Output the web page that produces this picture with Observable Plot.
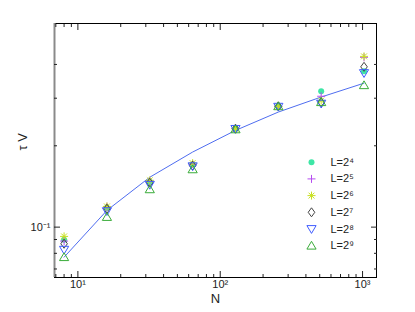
<!DOCTYPE html>
<html>
<head>
<meta charset="utf-8">
<script src="https://cdn.jsdelivr.net/npm/d3@7"></script>
<script src="https://cdn.jsdelivr.net/npm/@observablehq/plot@0.6"></script>
<style>
  html, body { margin: 0; padding: 0; background: #fff; }
  #chart svg { display: block; }
</style>
</head>
<body>
<div id="chart"></div>
<script>
// ---- data ----
const N = [8, 16, 32, 64, 128, 256, 512, 1024];
const L4 = [0.0898, 0.1180, 0.1470, 0.1700, 0.2314, 0.2800, 0.3180, 0.3775];
const L5 = [0.0888, 0.1190, 0.1480, 0.1710, 0.2314, 0.2800, 0.3050, 0.4250];
const L6 = [0.0924, 0.1193, 0.1490, 0.1725, 0.2314, 0.2800, 0.2940, 0.4285];
const L7 = [0.0868, 0.1170, 0.1460, 0.1690, 0.2314, 0.2800, 0.2900, 0.3920];
const L8 = [0.0825, 0.1146, 0.1435, 0.1680, 0.2310, 0.2790, 0.2865, 0.3717];
const L9 = [0.0774, 0.1090, 0.1380, 0.1636, 0.2300, 0.2800, 0.2900, 0.3350];
const fitLine = [0.0774, 0.1153, 0.1530, 0.1896, 0.2280, 0.2666, 0.3030, 0.3410];

const seriesNames = ["L=2⁴", "L=2⁵", "L=2⁶", "L=2⁷", "L=2⁸", "L=2⁹"];
const xMajor = [10, 100, 1000];
const xMajorLabels = ["10¹", "10²", "10³"];
const xMinor = [7, 8, 9, 20, 30, 40, 50, 60, 70, 80, 90, 200, 300, 400, 500, 600, 700, 800, 900];
const yMajor = [0.1];
const yMajorLabels = ["10⁻¹"];
const yMinor = [0.07, 0.08, 0.09, 0.2, 0.3, 0.4];
const xDomain = [6.85, 1253];
const yDomain = [0.0651, 0.567];

const xLabelOf = new Map(xMajor.map((v, i) => [v, xMajorLabels[i]]));
const yLabelOf = new Map(yMajor.map((v, i) => [v, yMajorLabels[i]]));

// ---- symbols ----
const symCircle = {draw(c) { c.moveTo(3, 0); c.arc(0, 0, 3, 0, 2 * Math.PI); c.closePath(); }};
const symPlus = {draw(c) { c.moveTo(-4, 0); c.lineTo(4, 0); c.moveTo(0, -4); c.lineTo(0, 4); }};
const symAst = {draw(c) {
  c.moveTo(-4, 0); c.lineTo(4, 0); c.moveTo(0, -4); c.lineTo(0, 4);
  c.moveTo(-2.9, -2.9); c.lineTo(2.9, 2.9); c.moveTo(-2.9, 2.9); c.lineTo(2.9, -2.9);
}};
const symDiamond = {draw(c) { c.moveTo(0, -4.5); c.lineTo(3.3, 0); c.lineTo(0, 4.5); c.lineTo(-3.3, 0); c.closePath(); }};
const symTriDown = {draw(c) { c.moveTo(-4.6, -3.4); c.lineTo(4.6, -3.4); c.lineTo(0, 4.4); c.closePath(); }};
const symTriUp = {draw(c) { c.moveTo(-4.6, 3.4); c.lineTo(4.6, 3.4); c.lineTo(0, -4.4); c.closePath(); }};

const series = [
  {vals: L4, sym: symCircle, color: "#3ee6a6", filled: true},
  {vals: L5, sym: symPlus, color: "#b64cf0", filled: false},
  {vals: L6, sym: symAst, color: "#c8e020", filled: false},
  {vals: L7, sym: symDiamond, color: "#444444", filled: false},
  {vals: L8, sym: symTriDown, color: "#3f5cff", filled: false},
  {vals: L9, sym: symTriUp, color: "#3aac3a", filled: false}
];

const font = "Liberation Sans, Arial, Helvetica, sans-serif";

const marks = [];

// frame: black box, gray left edge
marks.push(Plot.frame({stroke: "black", strokeWidth: 1}));
marks.push(Plot.ruleX([xDomain[0]], {stroke: "#8a8a8a", strokeWidth: 2}));

// ticks (inward) on all sides
for (const anchor of ["bottom", "top"]) {
  marks.push(Plot.axisX(xMajor, {anchor, tickSize: -6, text: null, label: null}));
  marks.push(Plot.axisX(xMinor, {anchor, tickSize: -3, text: null, label: null}));
}
for (const anchor of ["left", "right"]) {
  marks.push(Plot.axisY(yMajor, {anchor, tickSize: -6, text: null, label: null}));
  marks.push(Plot.axisY(yMinor, {anchor, tickSize: -3, text: null, label: null}));
}
// tick labels
marks.push(Plot.axisX(xMajor, {anchor: "bottom", tickSize: 0, tickPadding: 3, tickFormat: d => xLabelOf.get(d), label: null, fontSize: 11}));
marks.push(Plot.axisY(yMajor, {anchor: "left", tickSize: 0, tickPadding: 4, tickFormat: d => yLabelOf.get(d), label: null, fontSize: 11}));

// fitted line
marks.push(Plot.line(N.map((n, i) => ({N: n, v: fitLine[i]})), {x: "N", y: "v", stroke: "#4f6df0", strokeWidth: 1}));

// data points
series.forEach((s) => {
  const data = N.map((n, i) => ({N: n, v: s.vals[i]}));
  marks.push(Plot.dot(data, {
    x: "N", y: "v", symbol: s.sym, r: 3,
    fill: s.filled ? s.color : "none",
    stroke: s.filled ? "none" : s.color,
    strokeWidth: 1
  }));
});

// legend
series.forEach((s, i) => {
  marks.push(Plot.dot([0], {
    frameAnchor: "top-left", dx: 257, dy: 138.7 + i * 16.7, symbol: s.sym, r: 3,
    fill: s.filled ? s.color : "none", stroke: s.filled ? "none" : s.color, strokeWidth: 1
  }));
  marks.push(Plot.text([seriesNames[i]], {
    frameAnchor: "top-left", dx: 276, dy: 138.7 + i * 16.7, text: d => d,
    textAnchor: "start", lineAnchor: "middle", fontSize: 11, fill: "#222"
  }));
});

// axis titles
marks.push(Plot.text(["N"], {frameAnchor: "bottom", dy: 25, text: d => d, fontSize: 13, fill: "#222"}));
marks.push(Plot.text(["τ V"], {frameAnchor: "left", dx: -32, rotate: -90, text: d => d, fontSize: 13, fill: "#222"}));

const chart = Plot.plot({
  width: 415,
  height: 312,
  marginLeft: 54,
  marginRight: 39,
  marginTop: 23,
  marginBottom: 35,
  style: {fontFamily: font, fontSize: "11px", background: "#fff", color: "#222"},
  x: {type: "log", domain: xDomain, axis: null},
  y: {type: "log", domain: yDomain, axis: null},
  marks
});
document.getElementById("chart").appendChild(chart);
</script>
</body>
</html>
